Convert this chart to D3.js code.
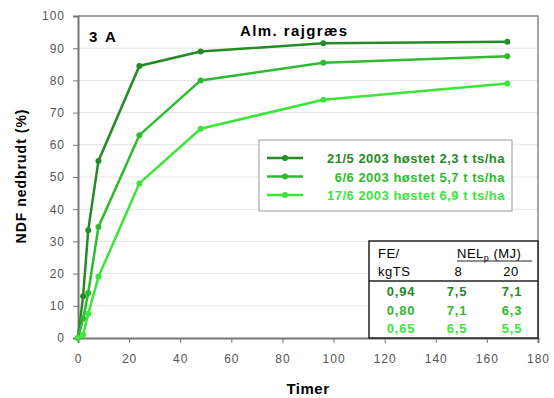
<!DOCTYPE html>
<html>
<head>
<meta charset="utf-8">
<script src="https://cdn.jsdelivr.net/npm/d3@7"></script>
<style>
  body { margin: 0; background: #fff; }
  text { font-family: "Liberation Sans", Arial, sans-serif; }
</style>
</head>
<body>
<svg width="554" height="398"></svg>
<script>
/* ===============================
   Data
   =============================== */
let hours = [0, 2, 4, 8, 24, 48, 96, 168];
let cut1 = [0, 13, 33.5, 55, 84.5, 89, 91.5, 92];
let cut2 = [0, 6, 14, 34.5, 63, 80, 85.5, 87.5];
let cut3 = [0, 1, 7.5, 19, 48, 65, 74, 79];
let seriesNames = ["21/5 2003 høstet 2,3 t ts/ha", "6/6 2003 høstet 5,7 t ts/ha", "17/6 2003 høstet 6,9 t ts/ha"];
let seriesColors = ["#268a26", "#2fba2f", "#3ae63a"];
let xTicks = [0, 20, 40, 60, 80, 100, 120, 140, 160, 180];
let yTicks = [0, 10, 20, 30, 40, 50, 60, 70, 80, 90, 100];
let feValues = ["0,94", "0,80", "0,65"];
let nel8 = ["7,5", "7,1", "6,5"];
let nel20 = ["7,1", "6,3", "5,5"];

let svg = d3.select("svg");

/* ===============================
   Scales
   =============================== */
let x = d3.scaleLinear().domain([0, 180]).range([78, 538]);
let y = d3.scaleLinear().domain([0, 100]).range([338, 16]);

/* ===============================
   Grid and frame
   =============================== */
svg.append("g")
    .selectAll("line")
    .data(yTicks.slice(1))
    .join("line")
    .attr("x1", x(0))
    .attr("x2", x(180))
    .attr("y1", d => y(d))
    .attr("y2", d => y(d))
    .attr("stroke", "#e4e4e4")
    .attr("stroke-width", 1);

svg.append("path")
    .attr("d", `M${x(0)},${y(100)}H${x(180)}V${y(0)}`)
    .attr("fill", "none")
    .attr("stroke", "#888")
    .attr("stroke-width", 1.5);

/* ===============================
   Axes
   =============================== */
let xAxis = svg.append("g")
    .attr("transform", `translate(0,${y(0)})`)
    .call(d3.axisBottom(x).tickValues(xTicks).tickSize(5).tickPadding(11));

let yAxis = svg.append("g")
    .attr("transform", `translate(${x(0)},0)`)
    .call(d3.axisLeft(y).tickValues(yTicks).tickSize(5).tickPadding(8));

[xAxis, yAxis].forEach(g => {
    g.select(".domain").attr("stroke", "#777").attr("stroke-width", 2);
    g.selectAll(".tick line").attr("stroke", "#777");
    g.selectAll(".tick text")
        .attr("fill", "#555")
        .style("font-size", "12px")
        .style("letter-spacing", "1px")
        .style("font-family", "Liberation Sans, Arial, sans-serif");
});

svg.append("text")
    .attr("x", 308)
    .attr("y", 394)
    .attr("text-anchor", "middle")
    .style("font-size", "15px")
    .style("font-weight", "bold")
    .style("letter-spacing", "0.5px")
    .text("Timer");

svg.append("text")
    .attr("transform", `translate(26,${y(50) - 1}) rotate(-90)`)
    .attr("text-anchor", "middle")
    .style("font-size", "14px")
    .style("font-weight", "bold")
    .style("letter-spacing", "1px")
    .text("NDF nedbrudt (%)");

/* ===============================
   Labels in plot
   =============================== */
svg.append("text")
    .attr("x", 89)
    .attr("y", 42)
    .style("font-size", "15px")
    .style("font-weight", "bold")
    .style("letter-spacing", "2px")
    .text("3 A");

svg.append("text")
    .attr("x", 240)
    .attr("y", 36)
    .style("font-size", "15px")
    .style("font-weight", "bold")
    .style("letter-spacing", "1.4px")
    .text("Alm. rajgræs");

/* ===============================
   Lines
   =============================== */
let allSeries = [cut1, cut2, cut3];
let line = d3.line()
    .x((d, i) => x(hours[i]))
    .y(d => y(d));

allSeries.forEach((vals, s) => {
    svg.append("path")
        .datum(vals)
        .attr("d", line)
        .attr("fill", "none")
        .attr("stroke", seriesColors[s])
        .attr("stroke-width", 2.5);

    svg.append("g")
        .selectAll("circle")
        .data(vals)
        .join("circle")
        .attr("cx", (d, i) => x(hours[i]))
        .attr("cy", d => y(d))
        .attr("r", 3)
        .attr("fill", seriesColors[s]);
});

/* ===============================
   Legend
   =============================== */
svg.append("rect")
    .attr("x", 259)
    .attr("y", 140)
    .attr("width", 253)
    .attr("height", 71)
    .attr("fill", "#fff")
    .attr("stroke", "#999")
    .attr("stroke-width", 1);

seriesNames.forEach((name, s) => {
    let ly = 158 + s * 18.5;
    svg.append("line")
        .attr("x1", 267)
        .attr("x2", 303)
        .attr("y1", ly)
        .attr("y2", ly)
        .attr("stroke", seriesColors[s])
        .attr("stroke-width", 2.5);
    svg.append("circle")
        .attr("cx", 285)
        .attr("cy", ly)
        .attr("r", 3)
        .attr("fill", seriesColors[s]);
    svg.append("text")
        .attr("x", 505)
        .attr("y", ly + 5)
        .attr("text-anchor", "end")
        .attr("fill", seriesColors[s])
        .style("font-size", "13px")
        .style("font-weight", "bold")
        .style("letter-spacing", "0.5px")
        .text(name);
});

/* ===============================
   Feed value table
   =============================== */
svg.append("rect")
    .attr("x", 369)
    .attr("y", 241)
    .attr("width", 169)
    .attr("height", 97)
    .attr("fill", "#fff")
    .attr("stroke", "#222")
    .attr("stroke-width", 1.5);

svg.append("line")
    .attr("x1", 369)
    .attr("x2", 538)
    .attr("y1", 281)
    .attr("y2", 281)
    .attr("stroke", "#222")
    .attr("stroke-width", 1.5);

svg.append("text").attr("x", 378).attr("y", 258)
    .style("font-size", "13px").style("letter-spacing", "0.5px").text("FE/");
svg.append("text").attr("x", 378).attr("y", 276)
    .style("font-size", "13px").style("letter-spacing", "0.5px").text("kgTS");

let nelHead = svg.append("text")
    .attr("x", 457)
    .attr("y", 258)
    .style("font-size", "13px")
    .style("letter-spacing", "0.5px");
nelHead.append("tspan").text("NEL");
nelHead.append("tspan").attr("dy", 3).style("font-size", "9px").text("p");
nelHead.append("tspan").attr("dy", -3).text(" (MJ)");

svg.append("line")
    .attr("x1", 457).attr("x2", 532)
    .attr("y1", 261).attr("y2", 261)
    .attr("stroke", "#222").attr("stroke-width", 1);

svg.append("text").attr("x", 458).attr("y", 276).attr("text-anchor", "middle")
    .style("font-size", "13px").text("8");
svg.append("text").attr("x", 511).attr("y", 276).attr("text-anchor", "middle")
    .style("font-size", "13px").style("letter-spacing", "0.5px").text("20");

feValues.forEach((fe, r) => {
    let ry = 296 + r * 18.5;
    [[fe, 401], [nel8[r], 457], [nel20[r], 512]].forEach(([t, cx]) => {
        svg.append("text")
            .attr("x", cx)
            .attr("y", ry)
            .attr("text-anchor", "middle")
            .attr("fill", seriesColors[r])
            .style("font-size", "13px")
            .style("font-weight", "bold")
            .style("letter-spacing", "0.8px")
            .text(t);
    });
});
</script>
</body>
</html>
